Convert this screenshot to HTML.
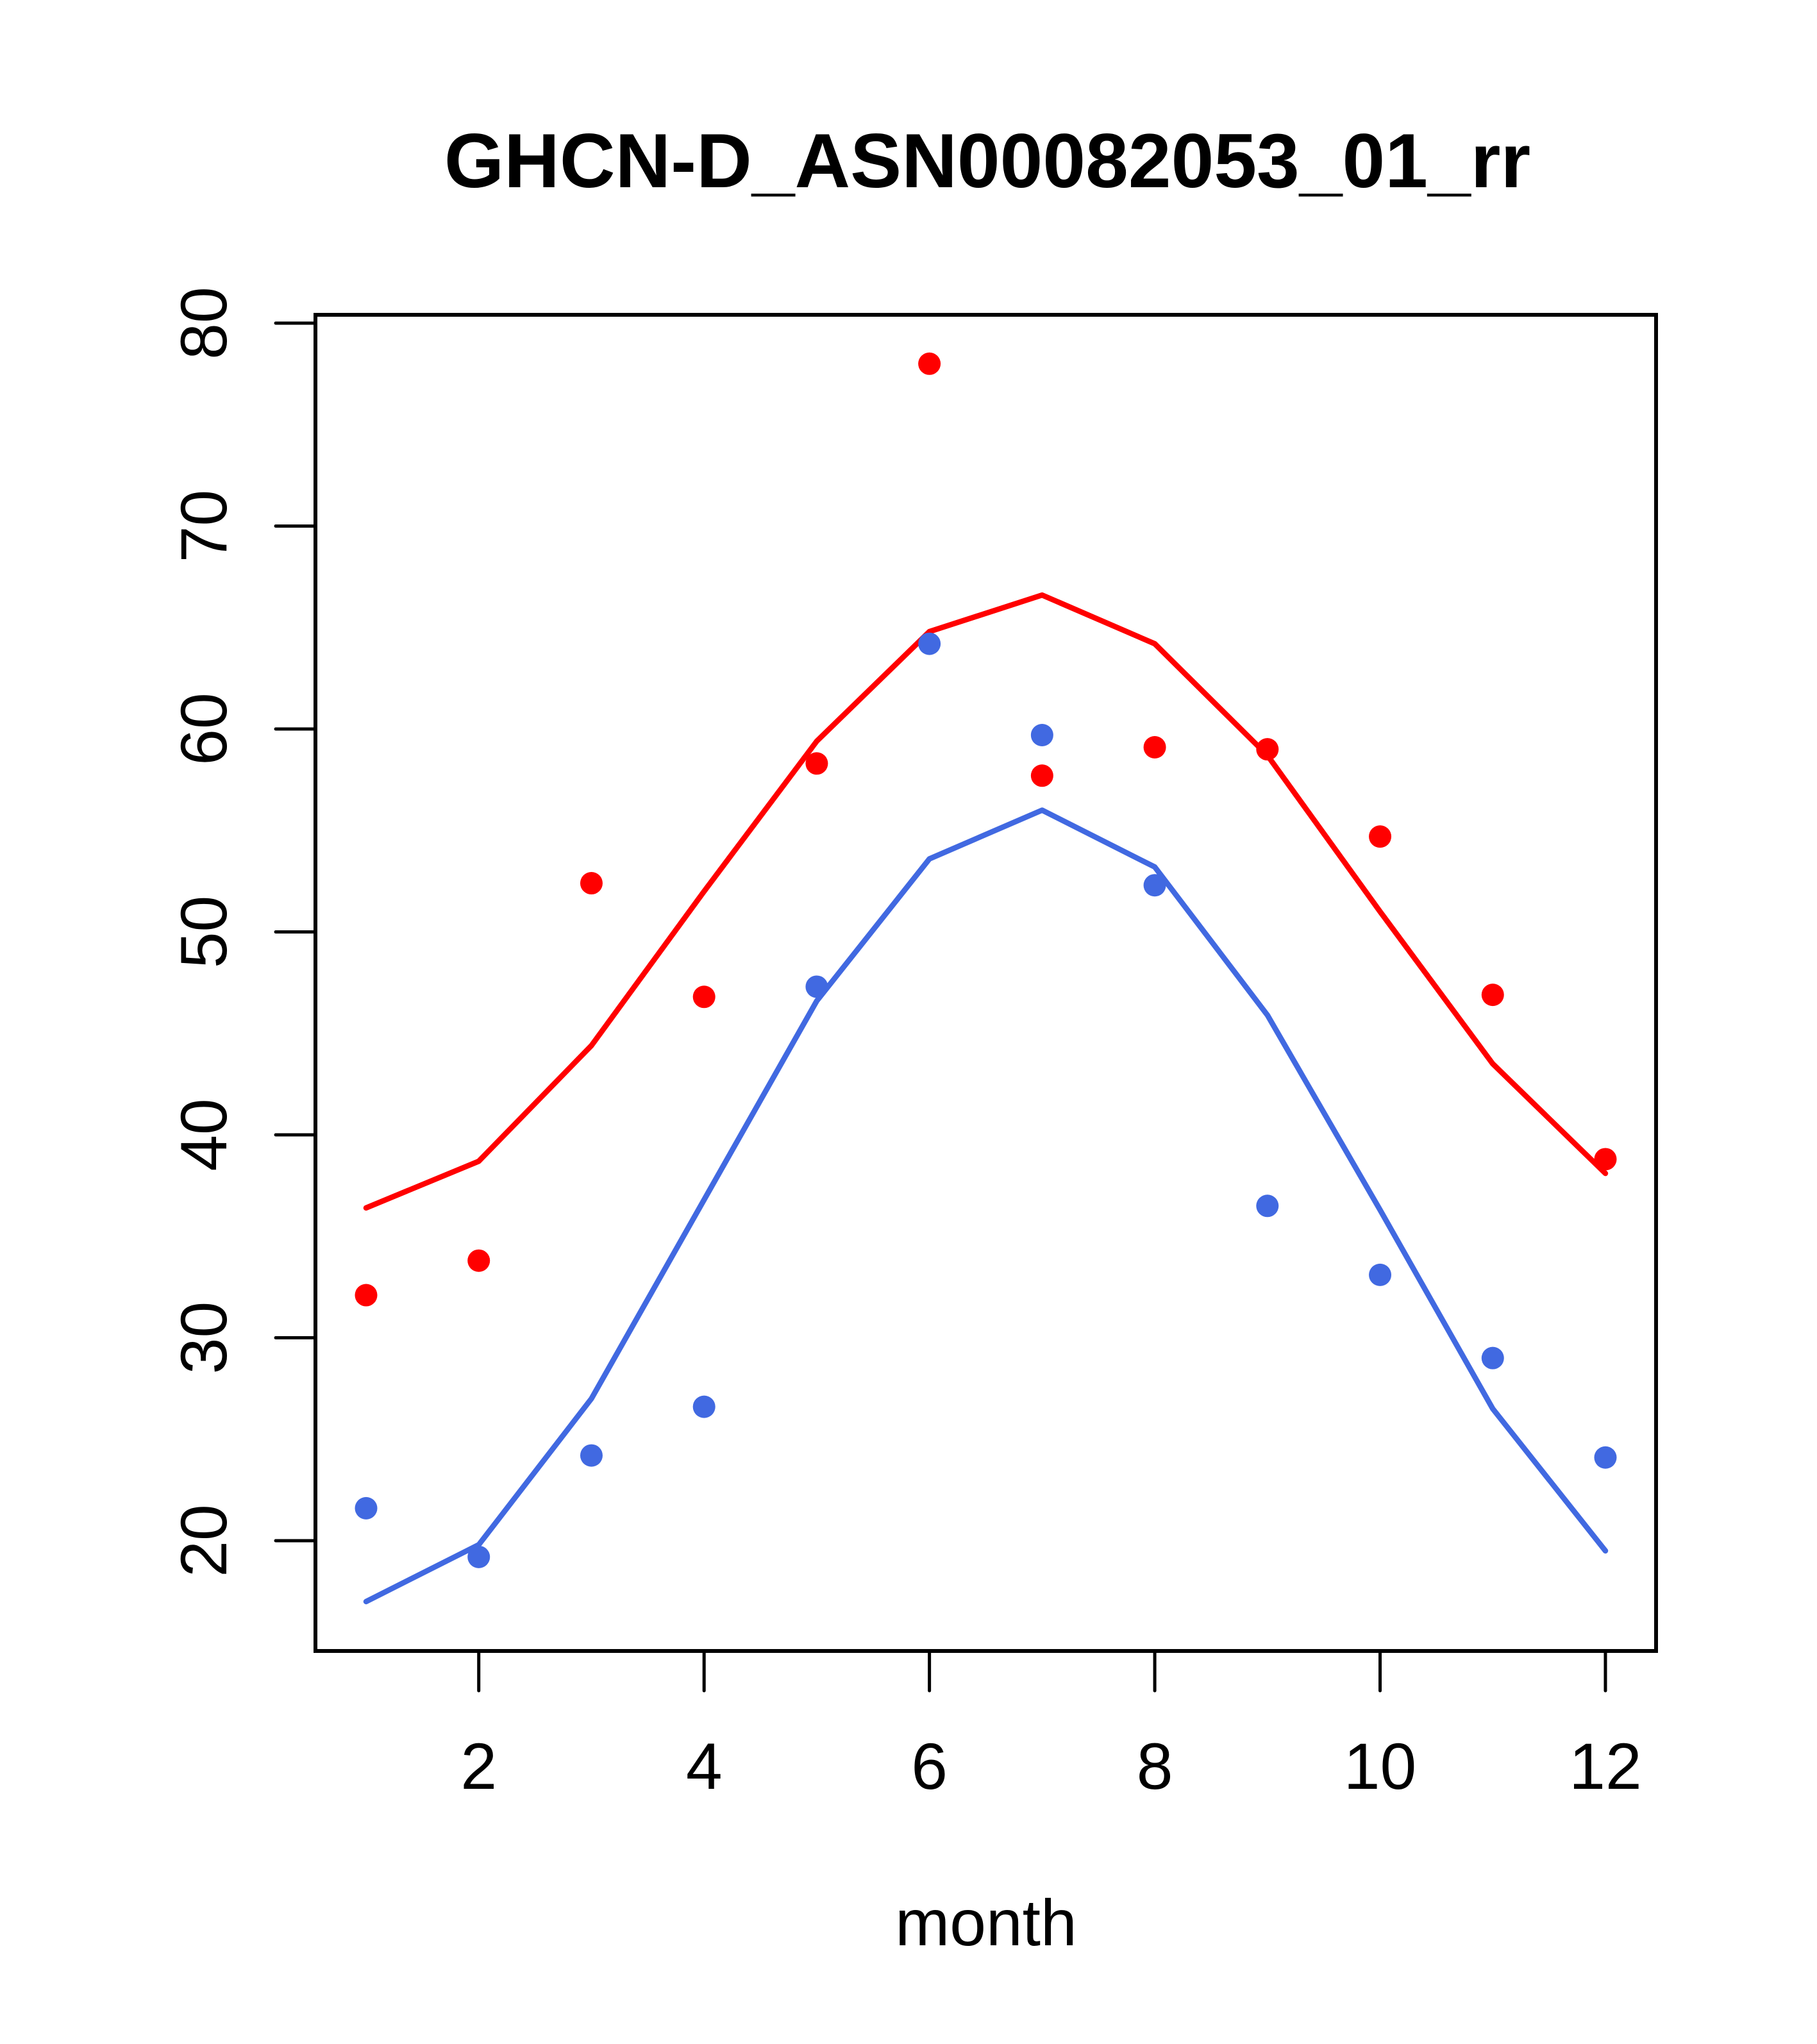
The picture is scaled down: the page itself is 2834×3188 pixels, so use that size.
<!DOCTYPE html>
<html><head><meta charset="utf-8"><style>html,body{margin:0;padding:0;background:#fff}svg{display:block}text{font-family:"Liberation Sans",Arial,sans-serif}</style></head>
<body>
<svg id="chart" width="2834" height="3188" viewBox="0 0 2834 3188" xmlns="http://www.w3.org/2000/svg">
<rect width="2834" height="3188" fill="#fff"/>
<text x="1540" y="292" font-size="120" font-weight="bold" text-anchor="middle">GHCN-D_ASN00082053_01_rr</text>
<rect x="492" y="491" width="2091" height="2084" fill="none" stroke="#000" stroke-width="6"/>
<g id="axes"></g>
<g id="series"></g>
<text x="1538" y="3034" font-size="102" text-anchor="middle">month</text>
</svg>
<script>
const months=[1,2,3,4,5,6,7,8,9,10,11,12];
const redPoints=[32.1,33.8,52.4,46.8,58.3,78.0,57.7,59.1,59.0,54.7,46.9,38.8];
const redLine=[36.4,38.7,44.4,52.0,59.4,64.8,66.6,64.2,58.7,51.0,43.5,38.1];
const bluePoints=[21.6,19.2,24.2,26.6,47.3,64.2,59.7,52.3,36.5,33.1,29.0,24.1];
const blueLine=[17.0,19.8,27.0,36.8,46.6,53.6,56.0,53.2,45.9,36.3,26.5,19.5];
const xTicks=[2,4,6,8,10,12];
const yTicks=[20,30,40,50,60,70,80];
const NS="http://www.w3.org/2000/svg";
function sx(v){return 571+(v-1)*(2504-571)/11;}
function sy(v){return 2403-(v-20)*(2403-504)/60;}
function mk(tag,attrs,parent){const e=document.createElementNS(NS,tag);for(const k in attrs)e.setAttribute(k,attrs[k]);parent.appendChild(e);return e;}
const axes=document.getElementById('axes');
const series=document.getElementById('series');
let e;
e=mk('line',{x1:492,x2:492,y1:sy(20),y2:sy(80),stroke:'#000','stroke-width':5},axes);


e=mk('line',{x1:sx(2),x2:sx(12),y1:2575,y2:2575,stroke:'#000','stroke-width':5},axes);


yTicks.forEach(t=>{
  e=mk('line',{x1:430,x2:492,y1:sy(t),y2:sy(t),stroke:'#000','stroke-width':5,'stroke-linecap':'round'},axes);
  
  
  e=mk('text',{x:353,y:sy(t),'font-size':102,'text-anchor':'middle',transform:'rotate(-90 353 '+sy(t)+')'},axes);
  e.textContent=t;
  
  
});
xTicks.forEach(t=>{
  e=mk('line',{x1:sx(t),x2:sx(t),y1:2575,y2:2637,stroke:'#000','stroke-width':5,'stroke-linecap':'round'},axes);
  
  
  e=mk('text',{x:sx(t),y:2790,'font-size':102,'text-anchor':'middle'},axes);
  e.textContent=t;
  
  
});
function line(vals,color,name){
  const p=vals.map((v,i)=>sx(months[i])+','+sy(v)).join(' ');
  e=mk('polyline',{points:p,fill:'none',stroke:color,'stroke-width':8.5,'stroke-linecap':'round','stroke-linejoin':'round'},series);
  
  
}
function pts(vals,color,name){
  vals.forEach((v,i)=>{
    e=mk('circle',{cx:sx(months[i]),cy:sy(v),r:17.5,fill:color},series);
    
    
  });
}
line(redLine,'#ff0000','red-fit-line');
line(blueLine,'#4169e1','blue-fit-line');
pts(redPoints,'#ff0000','red-point');
pts(bluePoints,'#4169e1','blue-point');
</script>
</body></html>
